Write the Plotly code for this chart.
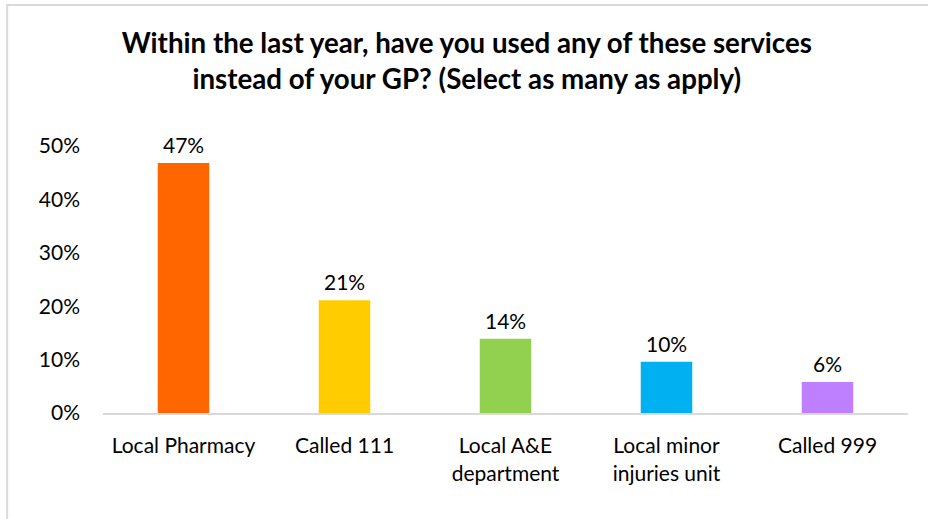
import plotly.graph_objects as go

# Survey responses: services used instead of a GP in the last year
services = ["Local Pharmacy", "Called 111", "Local A&E<br>department",
            "Local minor<br>injuries unit", "Called 999"]
shares = [0.468, 0.211, 0.139, 0.096, 0.058]
bar_colors = ["#FF6600", "#FFCC00", "#92D050", "#00B0F0", "#BF80FF"]
y_ticks = [0, 0.1, 0.2, 0.3, 0.4, 0.5]
y_tick_labels = ["0%", "10%", "20%", "30%", "40%", "50%"]

FONT = "Lato"
SIZE = 21

fig = go.Figure(
    go.Bar(
        x=services,
        y=shares,
        marker=dict(color=bar_colors, line=dict(width=0)),
        width=0.32,
        hoverinfo="skip",
    )
)

# Value labels above each bar
for name, val in zip(services, shares):
    fig.add_annotation(
        x=name, y=val, text=f"{val:.0%}", showarrow=False,
        yanchor="bottom", yshift=4,
        font=dict(family=FONT, size=SIZE, color="#000000"),
    )

# Light grey chart frame (left and top edges visible)
fig.add_shape(
    type="rect", xref="paper", yref="paper",
    x0=-0.119, x1=1.2, y0=-0.6, y1=1.528,
    line=dict(color="#D9D9D9", width=2), layer="below",
)

fig.update_layout(
    width=928, height=519,
    margin=dict(l=103, r=20, t=146, b=106),
    paper_bgcolor="white", plot_bgcolor="white",
    showlegend=False,
    title=dict(
        text="<b>Within the last year, have you used any of these services<br>"
             "instead of your GP? (Select as many as apply)</b>",
        x=0.503, xanchor="center", y=0.898, yanchor="top",
        font=dict(family=FONT, size=27.7, color="#000000"),
    ),
    font=dict(family=FONT, size=SIZE, color="#000000"),
)

fig.update_xaxes(
    showgrid=False, showline=True, linecolor="#D9D9D9", linewidth=2,
    ticks="", ticklabelstandoff=13,
    tickfont=dict(family=FONT, size=SIZE, color="#000000"),
)
fig.update_yaxes(
    range=[0, 0.5], tickvals=y_ticks, ticktext=y_tick_labels,
    showgrid=False, zeroline=False, showline=False, ticks="",
    ticklabelstandoff=22,
    tickfont=dict(family=FONT, size=SIZE, color="#000000"),
)

fig.write_html("out.html")
